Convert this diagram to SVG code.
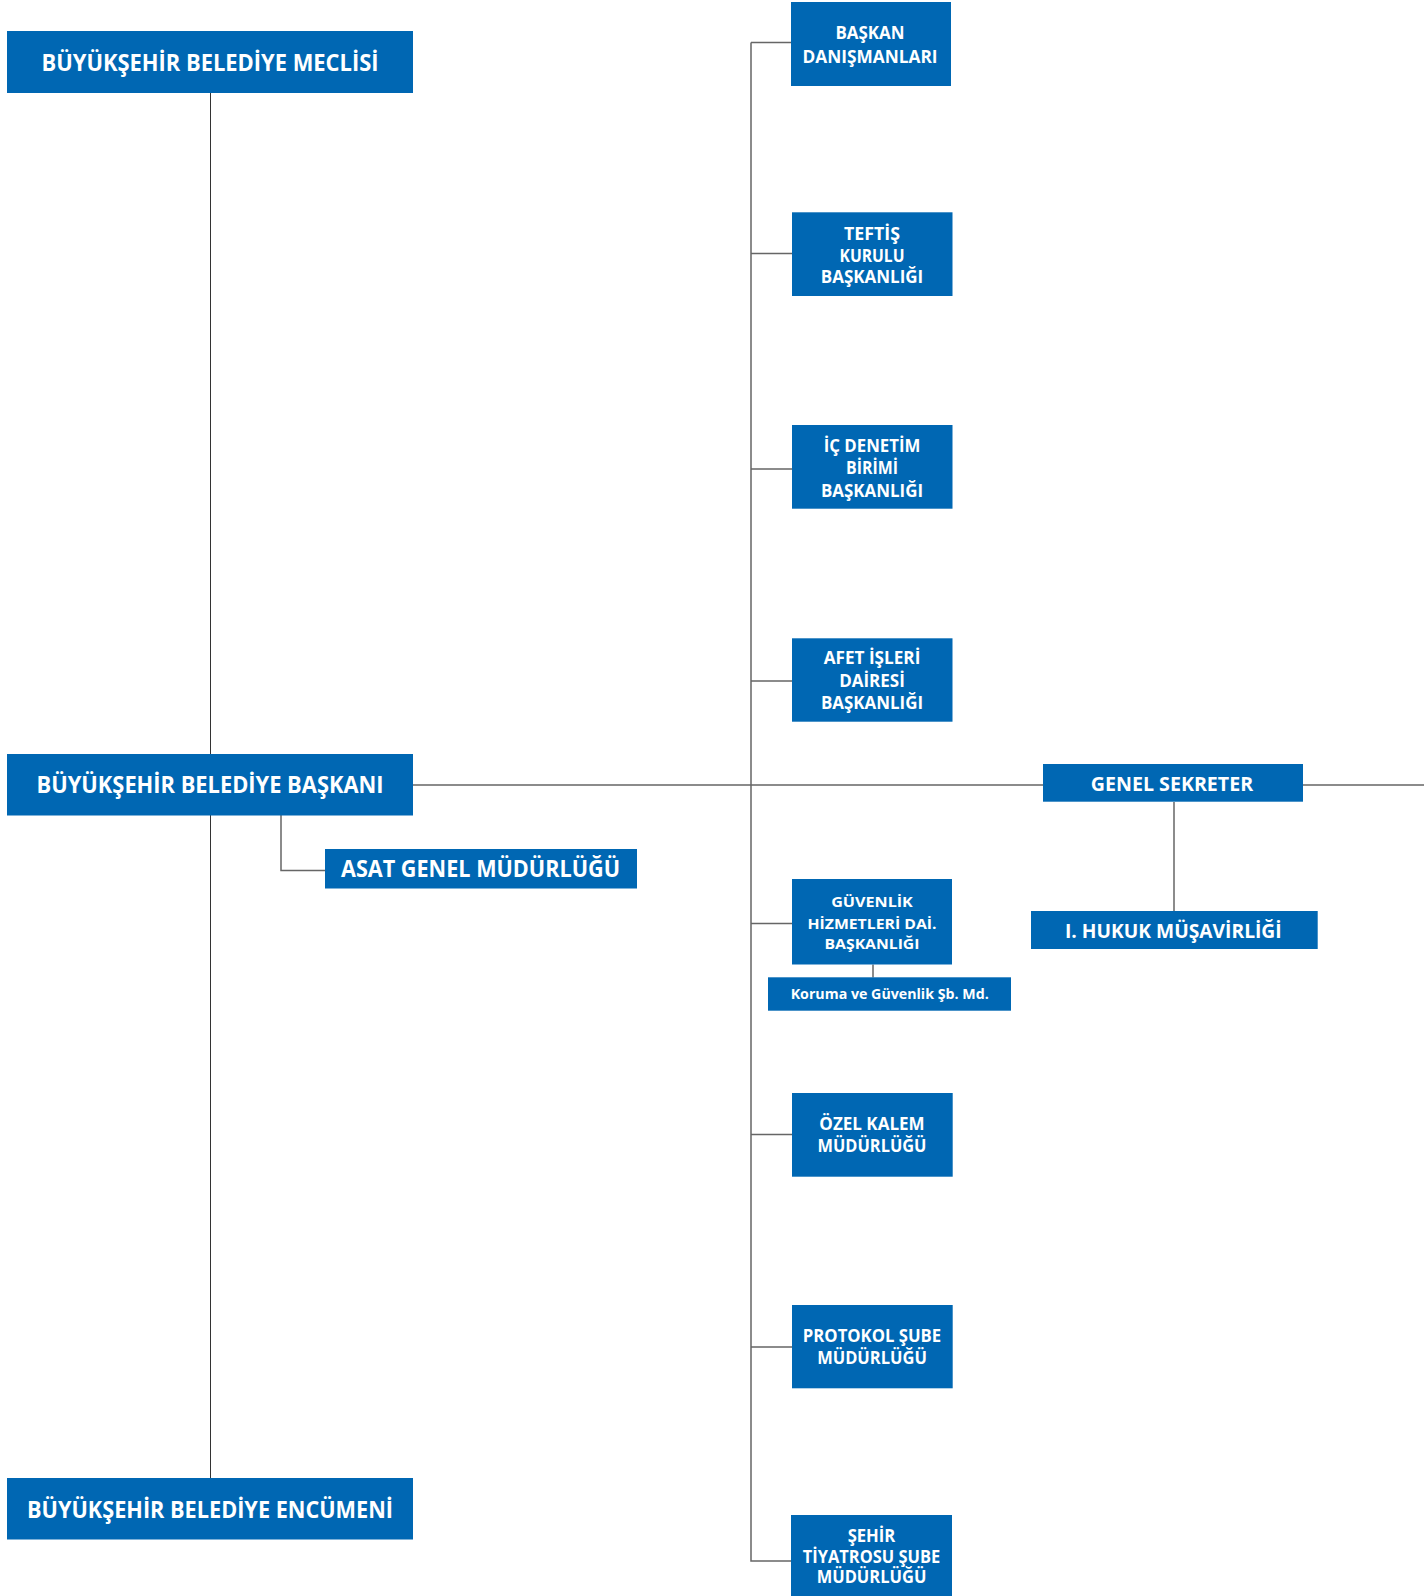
<svg xmlns="http://www.w3.org/2000/svg" width="1424" height="1596" viewBox="0 0 1424 1596">
<style>
.box{fill:#0067b3}
.t{fill:#fff;font-family:"Open Sans","Noto Sans","DejaVu Sans",sans-serif;font-weight:700;text-anchor:middle}
.b{font-size:23px}
.m{font-size:20px}
.s{font-size:17px}
.x{font-size:15px}
.ln{stroke:#666;stroke-width:1.5;fill:none}
.dk{stroke:#333;stroke-width:1;fill:none}
</style>
<rect width="1424" height="1596" fill="#fff"/>
<g id="connectors">
<path class="dk" d="M210.5 93V754M210.5 815V1478"/>
<path class="ln" d="M413 785H1043M1303 785H1424"/>
<path class="ln" d="M751 42.5V1561H791"/>
<path class="ln" d="M751 42.5H791M751 253.5H792M751 469H792M751 681H792M751 923.5H792M751 1134.5H792M751 1347H792"/>
<path class="ln" d="M281 815V870.5H325"/>
<path class="ln" d="M873 964.5V977.5"/>
<path class="ln" d="M1174 802V911"/>
</g>
<g id="meclis"><rect class="box" x="7" y="31" width="406" height="62"/><text class="t b" x="210" y="70.5" textLength="337" lengthAdjust="spacingAndGlyphs">BÜYÜKŞEHİR BELEDİYE MECLİSİ</text></g>
<g id="baskan"><rect class="box" x="7" y="754" width="406" height="61.5"/><text class="t b" x="210" y="793.3" textLength="347" lengthAdjust="spacingAndGlyphs">BÜYÜKŞEHİR BELEDİYE BAŞKANI</text></g>
<g id="encumen"><rect class="box" x="7" y="1478" width="406" height="61.5"/><text class="t b" x="210" y="1518.3" textLength="366" lengthAdjust="spacingAndGlyphs">BÜYÜKŞEHİR BELEDİYE ENCÜMENİ</text></g>
<g id="asat"><rect class="box" x="325" y="849" width="312" height="39.5"/><text class="t b" x="480.5" y="876.7" textLength="279" lengthAdjust="spacingAndGlyphs">ASAT GENEL MÜDÜRLÜĞÜ</text></g>
<g id="danisman"><rect class="box" x="791" y="2" width="160" height="84"/>
<text class="t s" x="870" y="39" textLength="69" lengthAdjust="spacingAndGlyphs">BAŞKAN</text>
<text class="t s" x="870" y="62.7" textLength="135" lengthAdjust="spacingAndGlyphs">DANIŞMANLARI</text></g>
<g id="teftis"><rect class="box" x="792" y="212.3" width="160.5" height="83.7"/>
<text class="t s" x="872" y="240" textLength="56" lengthAdjust="spacingAndGlyphs">TEFTİŞ</text>
<text class="t s" x="872" y="261.7" textLength="65" lengthAdjust="spacingAndGlyphs">KURULU</text>
<text class="t s" x="872" y="283.3" textLength="102.5" lengthAdjust="spacingAndGlyphs">BAŞKANLIĞI</text></g>
<g id="icdenetim"><rect class="box" x="792" y="425" width="160.5" height="83.7"/>
<text class="t s" x="872" y="452.3" textLength="96.7" lengthAdjust="spacingAndGlyphs">İÇ DENETİM</text>
<text class="t s" x="872" y="474" textLength="52" lengthAdjust="spacingAndGlyphs">BİRİMİ</text>
<text class="t s" x="872" y="496.7" textLength="102" lengthAdjust="spacingAndGlyphs">BAŞKANLIĞI</text></g>
<g id="afet"><rect class="box" x="792" y="638.3" width="160.5" height="83.4"/>
<text class="t s" x="872" y="664.3" textLength="96.7" lengthAdjust="spacingAndGlyphs">AFET İŞLERİ</text>
<text class="t s" x="872" y="686.7" textLength="65.7" lengthAdjust="spacingAndGlyphs">DAİRESİ</text>
<text class="t s" x="872" y="709" textLength="102" lengthAdjust="spacingAndGlyphs">BAŞKANLIĞI</text></g>
<g id="guvenlik"><rect class="box" x="792" y="879" width="160" height="85.5"/>
<text class="t x" x="872" y="907.3" textLength="81.7" lengthAdjust="spacingAndGlyphs">GÜVENLİK</text>
<text class="t x" x="872" y="929" textLength="129" lengthAdjust="spacingAndGlyphs">HİZMETLERİ DAİ.</text>
<text class="t x" x="872" y="949" textLength="95" lengthAdjust="spacingAndGlyphs">BAŞKANLIĞI</text></g>
<g id="koruma"><rect class="box" x="768" y="977.3" width="243" height="33.4"/>
<text class="t x" x="889.7" y="999.3" textLength="198" lengthAdjust="spacingAndGlyphs">Koruma ve Güvenlik Şb. Md.</text></g>
<g id="ozelkalem"><rect class="box" x="792" y="1093" width="160.7" height="83.7"/>
<text class="t s" x="872" y="1130" textLength="105.3" lengthAdjust="spacingAndGlyphs">ÖZEL KALEM</text>
<text class="t s" x="872" y="1152.3" textLength="109" lengthAdjust="spacingAndGlyphs">MÜDÜRLÜĞÜ</text></g>
<g id="protokol"><rect class="box" x="792" y="1305" width="160.7" height="83.3"/>
<text class="t s" x="872" y="1341.7" textLength="138.3" lengthAdjust="spacingAndGlyphs">PROTOKOL ŞUBE</text>
<text class="t s" x="872" y="1364" textLength="109.7" lengthAdjust="spacingAndGlyphs">MÜDÜRLÜĞÜ</text></g>
<g id="tiyatro"><rect class="box" x="791" y="1515" width="161" height="81"/>
<text class="t s" x="871.5" y="1541.7" textLength="47.7" lengthAdjust="spacingAndGlyphs">ŞEHİR</text>
<text class="t s" x="871.5" y="1563.3" textLength="137.3" lengthAdjust="spacingAndGlyphs">TİYATROSU ŞUBE</text>
<text class="t s" x="871.5" y="1583.3" textLength="109.7" lengthAdjust="spacingAndGlyphs">MÜDÜRLÜĞÜ</text></g>
<g id="genelsekreter"><rect class="box" x="1043" y="764" width="260" height="37.7"/>
<text class="t m" x="1172" y="791" textLength="162.3" lengthAdjust="spacingAndGlyphs">GENEL SEKRETER</text></g>
<g id="hukuk"><rect class="box" x="1031" y="911" width="286.7" height="38"/>
<text class="t m" x="1173.3" y="937.7" textLength="216.7" lengthAdjust="spacingAndGlyphs">I. HUKUK MÜŞAVİRLİĞİ</text></g>
</svg>
